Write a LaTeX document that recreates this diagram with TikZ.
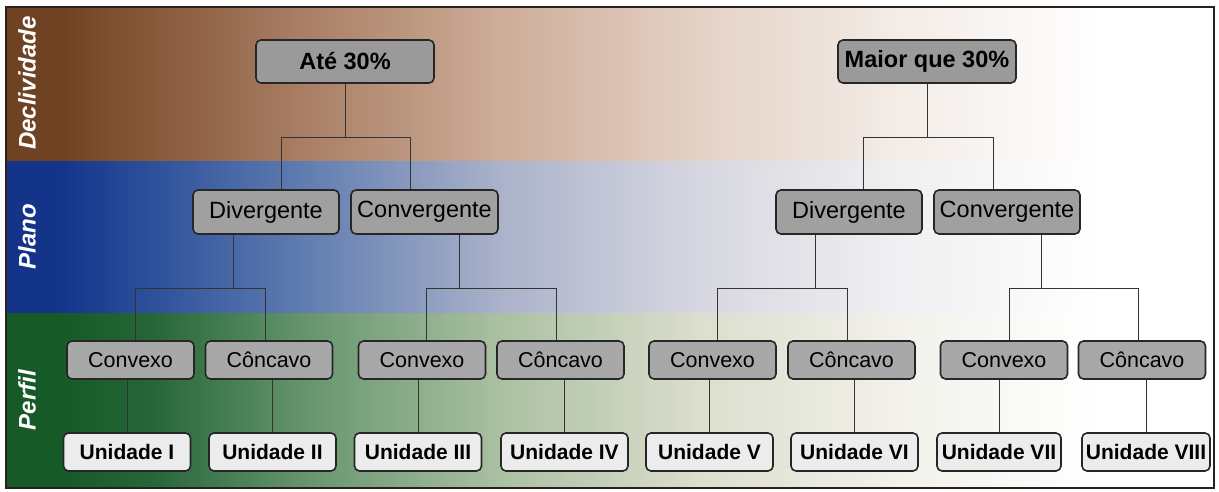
\documentclass[tikz,border=0pt]{standalone}
\usepackage{fontspec}
\setmainfont{Liberation Sans}
\usetikzlibrary{calc}
\definecolor{brA}{RGB}{112,66,36}
\definecolor{brB}{RGB}{135,88,58}
\definecolor{brC}{RGB}{168,126,100}
\definecolor{brD}{RGB}{205,172,152}
\definecolor{brE}{RGB}{228,210,198}
\definecolor{brF}{RGB}{243,236,231}
\definecolor{blA}{RGB}{20,52,138}
\definecolor{blB}{RGB}{45,80,155}
\definecolor{blC}{RGB}{95,124,176}
\definecolor{blD}{RGB}{170,178,202}
\definecolor{blE}{RGB}{215,215,225}
\definecolor{blF}{RGB}{240,239,241}
\definecolor{grA}{RGB}{22,90,40}
\definecolor{grB}{RGB}{38,102,56}
\definecolor{grC}{RGB}{100,148,108}
\definecolor{grD}{RGB}{170,192,162}
\definecolor{grE}{RGB}{220,222,206}
\definecolor{grF}{RGB}{242,241,235}
\definecolor{frame}{RGB}{43,33,28}
\definecolor{boxA}{RGB}{154,154,154}
\definecolor{boxB}{RGB}{160,160,160}
\definecolor{boxC}{RGB}{168,168,168}
\definecolor{boxD}{RGB}{236,236,236}
\pgfdeclarehorizontalshading{brsh}{100bp}{color(0bp)=(brA);color(27.2bp)=(brA);color(31bp)=(brB);color(37.2bp)=(brC);color(45.4bp)=(brD);color(53.7bp)=(brE);color(62bp)=(brF);color(70.3bp)=(white);color(100bp)=(white)}
\pgfdeclarehorizontalshading{blsh}{100bp}{color(0bp)=(blA);color(27.2bp)=(blA);color(31bp)=(blB);color(37.2bp)=(blC);color(45.4bp)=(blD);color(53.7bp)=(blE);color(62bp)=(blF);color(70.3bp)=(white);color(100bp)=(white)}
\pgfdeclarehorizontalshading{grsh}{100bp}{color(0bp)=(grA);color(27.2bp)=(grA);color(31bp)=(grB);color(37.2bp)=(grC);color(45.4bp)=(grD);color(53.7bp)=(grE);color(62bp)=(grF);color(70.3bp)=(white);color(100bp)=(white)}
\tikzset{
  box/.style={draw=black!85, line width=1.6pt, rounded corners=5pt, inner sep=0pt, text=black},
  lvlA/.style={box, fill=boxA, minimum width=178pt, minimum height=43pt, font=\fontsize{23.5}{28}\selectfont\bfseries},
  lvlB/.style={box, fill=boxB, minimum width=146pt, minimum height=44pt, font=\fontsize{23.5}{28}\selectfont},
  lvlC/.style={box, fill=boxC, minimum width=127pt, minimum height=38pt, font=\fontsize{21.5}{26}\selectfont},
  lvlD/.style={box, fill=boxD, minimum width=127pt, minimum height=38pt, font=\fontsize{21}{25}\selectfont\bfseries},
  conn/.style={draw=black!80, line width=1pt},
  side/.style={text=white, rotate=90, font=\fontsize{24}{28}\selectfont\bfseries\itshape}
}
\begin{document}
\begin{tikzpicture}[x=1pt,y=-1pt]
\useasboundingbox (0,0) rectangle (1219,492);
% bands
\fill[shading=brsh] (6,7) rectangle (1214,162);
\fill[shading=blsh] (6,162) rectangle (1214,313);
\fill[shading=grsh] (6,313) rectangle (1214,488);
\draw[frame, line width=2pt] (6,7) rectangle (1214,488);
% side labels
\node[side] (lDec) at (27,83) {Declividade};
\node[side] (lPla) at (27,237) {Plano};
\node[side] (lPer) at (27,400) {Perfil};
% level 1
\node[lvlA] (ate) at (345,61.5) {Até 30\%};
\node[lvlA] (mai) at (927,61.5) {Maior que 30\%};
% level 2
\node[lvlB] (div1) at (266,212) {Divergente};
\node[lvlB, minimum width=147pt] (con1) at (424.5,212) {Convergente};
\node[lvlB] (div2) at (849,212) {Divergente};
\node[lvlB] (con2) at (1007,212) {Convergente};
% level 3
\node[lvlC] (cx1) at (130.5,360) {Convexo};
\node[lvlC] (cc1) at (269,360) {Côncavo};
\node[lvlC] (cx2) at (422,360) {Convexo};
\node[lvlC] (cc2) at (560.5,360) {Côncavo};
\node[lvlC] (cx3) at (712.5,360) {Convexo};
\node[lvlC] (cc3) at (851.5,360) {Côncavo};
\node[lvlC] (cx4) at (1004,360) {Convexo};
\node[lvlC] (cc4) at (1142,360) {Côncavo};
% level 4
\node[lvlD] (u1) at (127,452) {Unidade I};
\node[lvlD] (u2) at (272.5,452) {Unidade II};
\node[lvlD] (u3) at (418,452) {Unidade III};
\node[lvlD] (u4) at (564.5,452) {Unidade IV};
\node[lvlD] (u5) at (709.5,452) {Unidade V};
\node[lvlD] (u6) at (854.5,452) {Unidade VI};
\node[lvlD, minimum width=124pt] (u7) at (999,452) {Unidade VII};
\node[lvlD, minimum width=128pt] (u8) at (1146,452) {Unidade VIII};
% connectors level 1 -> 2
\draw[conn] (ate.south) -- ++(0,54) coordinate (ja);
\draw[conn] ([xshift=15pt]div1.north) |- (ja) -| ([xshift=-14.5pt]con1.north);
\draw[conn] (mai.south) -- ++(0,54) coordinate (jb);
\draw[conn] ([xshift=14pt]div2.north) |- (jb) -| ([xshift=-14pt]con2.north);
% level 2 -> 3
\draw[conn] ([xshift=-33pt]div1.south) -- ++(0,54) coordinate (jc);
\draw[conn] ([xshift=4.5pt]cx1.north) |- (jc) -| ([xshift=-4pt]cc1.north);
\draw[conn] ([xshift=34.5pt]con1.south) -- ++(0,54) coordinate (jd);
\draw[conn] ([xshift=4pt]cx2.north) |- (jd) -| ([xshift=-4.5pt]cc2.north);
\draw[conn] ([xshift=-34pt]div2.south) -- ++(0,54) coordinate (je);
\draw[conn] ([xshift=4.5pt]cx3.north) |- (je) -| ([xshift=-4.5pt]cc3.north);
\draw[conn] ([xshift=34pt]con2.south) -- ++(0,54) coordinate (jf);
\draw[conn] ([xshift=5pt]cx4.north) |- (jf) -| ([xshift=-4pt]cc4.north);
% level 3 -> 4
\draw[conn] (u1.north) -- (u1.north |- cx1.south);
\draw[conn] (u2.north) -- (u2.north |- cc1.south);
\draw[conn] (u3.north) -- (u3.north |- cx2.south);
\draw[conn] (u4.north) -- (u4.north |- cc2.south);
\draw[conn] (u5.north) -- (u5.north |- cx3.south);
\draw[conn] (u6.north) -- (u6.north |- cc3.south);
\draw[conn] (u7.north) -- (u7.north |- cx4.south);
\draw[conn] (u8.north) -- (u8.north |- cc4.south);
\end{tikzpicture}
\end{document}
